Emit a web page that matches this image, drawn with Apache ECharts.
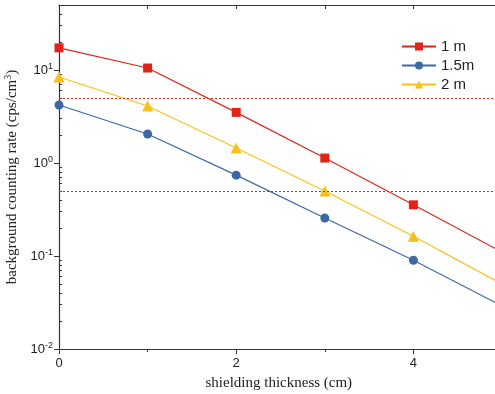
<!DOCTYPE html>
<html><head><meta charset="utf-8">
<script src="https://cdn.jsdelivr.net/npm/echarts@6/dist/echarts.min.js"></script>
<style>html,body{margin:0;padding:0;background:#fff}#c{width:495px;height:394px}</style>
</head><body><div id="c"></div>
<script>
const thickness = [0, 1, 2, 3, 4, 5];
const rate1m  = [17.3, 10.5, 3.5, 1.13, 0.355, 0.11];
const rate15m = [4.2, 2.05, 0.74, 0.256, 0.09, 0.029];
const rate2m  = [8.4, 4.1, 1.45, 0.5, 0.163, 0.05];
const limits = [5, 0.5];
const seriesNames = ['1 m', '1.5m', '2 m'];
const yMajor = [0.01, 0.1, 1, 10];
const yMinor = [];
[0.01, 0.1, 1, 10].forEach(d => { for (let k = 2; k <= 9; k++) { if (d * k <= 50) yMinor.push(+(d * k).toPrecision(3)); } });
const xLabels = [0, 2, 4];

const colors = ['#e2231a', '#3a69a3', '#f8c01b'];
const mk = (vals) => thickness.map((x, i) => i < thickness.length - 1 ? [x, vals[i]] : { value: [x, vals[i]], symbol: 'none' });

// layout: plot spans x 0..6, only 0..~4.9 visible in the window
const gridLeft = 59, gridWidth = 531.6;
const chart = echarts.init(document.getElementById('c'));
const axisCol = '#333';
chart.setOption({
  animation: false,
  grid: { left: gridLeft, top: 5, bottom: 45, width: gridWidth, show: false, containLabel: false, outerBoundsMode: 'none' },
  legend: {
    orient: 'vertical', left: 396, top: 34, itemWidth: 34, itemHeight: 10, itemGap: 4,
    textStyle: { fontFamily: 'Liberation Sans', fontSize: 15, color: '#222' },
    data: seriesNames
  },
  xAxis: [
    { type: 'value', min: 0, max: 6, interval: 2, position: 'bottom',
      name: 'shielding thickness (cm)', nameLocation: 'middle', nameGap: 27,
      nameTextStyle: { fontFamily: 'Liberation Serif', fontSize: 15, color: '#222', padding: [0, 92, 0, 0] },
      axisLine: { onZero: false, lineStyle: { color: axisCol, width: 1.2 } },
      axisTick: { length: 5, lineStyle: { color: axisCol } },
      minorTick: { show: true, splitNumber: 2, length: 3, lineStyle: { color: axisCol } },
      axisLabel: { customValues: xLabels, fontFamily: 'Liberation Sans', fontSize: 13, color: '#222', margin: 8 },
      splitLine: { show: false } },
    { type: 'value', min: 0, max: 6, interval: 1, position: 'top',
      axisLine: { show: true, onZero: false, lineStyle: { color: axisCol, width: 1.2 } },
      axisTick: { show: true, inside: true, length: 4, lineStyle: { color: axisCol } },
      axisLabel: { show: false }, splitLine: { show: false } }
  ],
  yAxis: [
    { type: 'log', logBase: 10, min: 0.01, max: 50, position: 'left',
      name: 'background counting rate (cps/cm{sup|3})', nameLocation: 'middle', nameGap: 38, nameRotate: 90,
      nameTextStyle: { fontFamily: 'Liberation Serif', fontSize: 15, color: '#222',
        rich: { sup: { fontFamily: 'Liberation Serif', fontSize: 10, verticalAlign: 'bottom', padding: [0, 0, 8, 0] } } },
      axisLine: { onZero: false, lineStyle: { color: axisCol, width: 1.2 } },
      axisTick: { customValues: yMajor, length: 5, lineStyle: { color: axisCol } },
      axisLabel: { customValues: yMajor, margin: 6,
        formatter: v => '10{sup|' + Math.round(Math.log10(v)) + '}',
        fontFamily: 'Liberation Sans', fontSize: 13, color: '#222',
        rich: { sup: { fontFamily: 'Liberation Sans', fontSize: 9, color: '#222', verticalAlign: 'bottom', padding: [0, 0, 7, 0] } } },
      splitLine: { show: false } },
    { type: 'log', logBase: 10, min: 0.01, max: 50, position: 'right', offset: -gridWidth,
      axisLine: { show: false, onZero: false },
      axisTick: { customValues: yMinor, inside: false, length: 3, lineStyle: { color: axisCol } },
      axisLabel: { show: false }, splitLine: { show: false } }
  ],
  series: [
    { name: seriesNames[0], type: 'line', data: mk(rate1m), symbol: 'rect', symbolSize: 9,
      color: colors[0], lineStyle: { width: 1.2 },
      markLine: { silent: true, symbol: 'none', label: { show: false },
        lineStyle: { color: '#e2231a', type: [2, 2], width: 1 },
        data: limits.map(v => ({ yAxis: v })) } },
    { name: seriesNames[1], type: 'line', data: mk(rate15m), symbol: 'circle', symbolSize: 9,
      color: colors[1], lineStyle: { width: 1.2 } },
    { name: seriesNames[2], type: 'line', data: mk(rate2m), symbol: 'triangle', symbolSize: 11,
      color: colors[2], lineStyle: { width: 1.2 } }
  ]
});
</script></body></html>
